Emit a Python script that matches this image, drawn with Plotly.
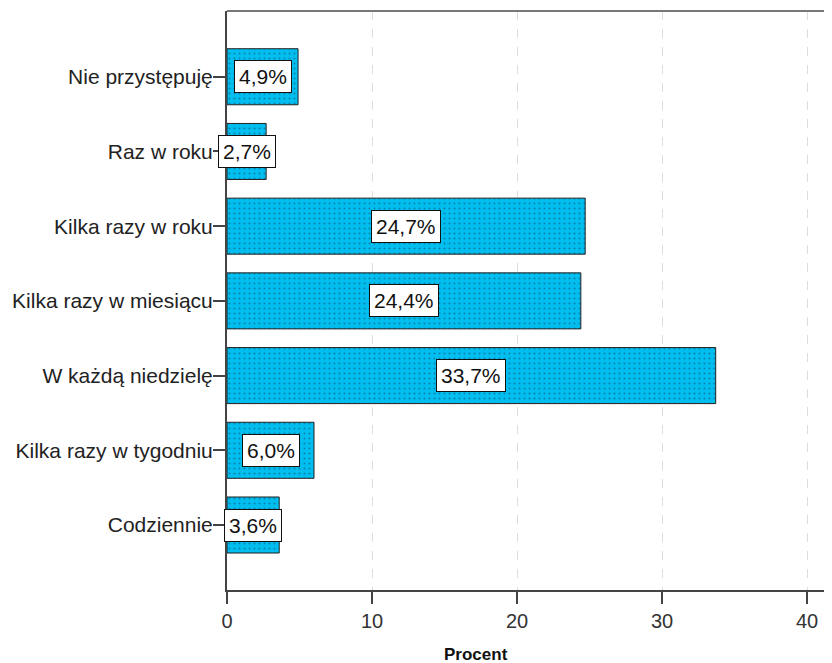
import plotly.graph_objects as go

categories = ["Nie przystępuję", "Raz w roku", "Kilka razy w roku",
              "Kilka razy w miesiącu", "W każdą niedzielę",
              "Kilka razy w tygodniu", "Codziennie"]
percent = [4.9, 2.7, 24.7, 24.4, 33.7, 6.0, 3.6]
x_ticks = [0, 10, 20, 30, 40]
x_title = "Procent"

fig = go.Figure()
fig.add_trace(go.Bar(
    x=percent, y=categories, orientation="h", width=0.75,
    marker=dict(color="#00bff0", line=dict(color="#222222", width=1),
                pattern=dict(shape=".", fgcolor="#1a4a66", size=5, solidity=0.15)),
    hoverinfo="skip", showlegend=False,
))

for c, v in zip(categories, percent):
    fig.add_annotation(
        x=v / 2, y=c, xref="x", yref="y",
        text=f"{v:.1f}%".replace(".", ","), showarrow=False,
        font=dict(family="Arial, Liberation Sans", size=21, color="#111111"),
        bgcolor="white", bordercolor="#111111", borderwidth=1, borderpad=4,
    )

fig.add_annotation(
    x=17.2, y=0, xref="x", yref="paper", yanchor="middle", yshift=-64,
    text="<b>" + x_title + "</b>", showarrow=False,
    font=dict(family="Arial, Liberation Sans", size=17, color="#111111"),
)

fig.add_shape(type="line", xref="paper", yref="paper", x0=0, x1=1, y0=1, y1=1,
              line=dict(color="#777777", width=2))

fig.update_layout(
    width=824, height=655,
    margin=dict(l=219, r=0, t=3, b=73),
    plot_bgcolor="white", paper_bgcolor="white",
    font=dict(family="Arial, Liberation Sans", color="#222222"),
    xaxis=dict(range=[0, 41.72], tickvals=x_ticks, ticks="outside", ticklen=12,
               tickwidth=2, tickcolor="#444444", automargin=False,
               showline=True, linecolor="#444444", linewidth=2,
               showgrid=True, gridcolor="#dddddd", griddash="dash", gridwidth=1,
               zeroline=False, tickfont=dict(size=20, color="#333333")),
    yaxis=dict(type="category", categoryorder="array", categoryarray=categories,
               range=[6.87, -0.88], ticks="outside", ticklen=12, tickwidth=2,
               tickcolor="#444444", showline=True, linecolor="#444444", linewidth=2,
               automargin=False, showgrid=False, ticklabelstandoff=-4,
               tickfont=dict(size=21, color="#222222")),
)

fig.write_html("out.html")
